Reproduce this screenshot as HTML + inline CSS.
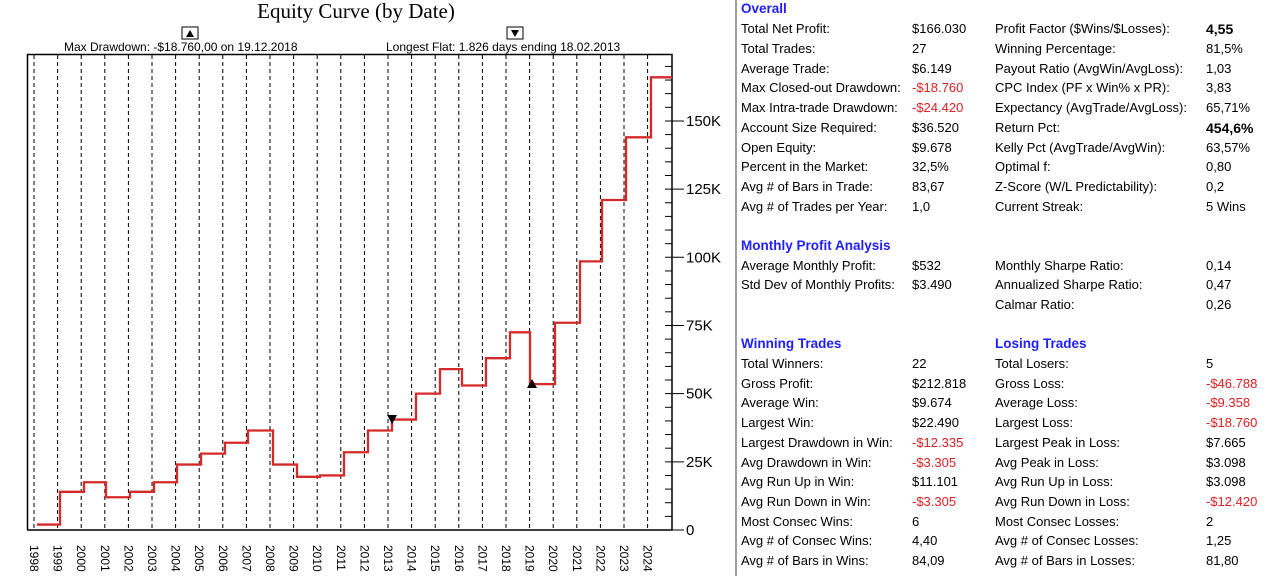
<!DOCTYPE html>
<html><head><meta charset="utf-8"><style>
body{margin:0;width:1273px;height:576px;background:#fff;overflow:hidden;font-family:"Liberation Sans",Arial,sans-serif}
.p{position:absolute;font-size:13px;color:#000;white-space:nowrap;line-height:14px}
.h{position:absolute;font-size:13.5px;font-weight:bold;color:#2020ff;white-space:nowrap}
.r{color:#e02020}.b{font-weight:bold;font-size:14px}
</style></head><body>
<svg width="735" height="576" style="position:absolute;left:0;top:0" font-family="Liberation Sans, Arial, sans-serif">
<text x="356" y="18" text-anchor="middle" font-family="Liberation Serif, serif" font-size="21">Equity Curve (by Date)</text>
<rect x="182" y="27" width="16" height="12" fill="#fff" stroke="#000"/><path d="M186 37 L194 37 L190 30 Z"/>
<rect x="507" y="27" width="16" height="12" fill="#fff" stroke="#000"/><path d="M511 30 L519 30 L515 37 Z"/>
<text x="64" y="51" font-size="12">Max Drawdown: -$18.760,00 on 19.12.2018</text>
<text x="386" y="51" font-size="12">Longest Flat: 1.826 days ending 18.02.2013</text>
<g id="grid" stroke="#000" stroke-dasharray="4,3" stroke-width="1"></g>
<path d="M27.5 530 L27.5 54.5 L672 54.5 L672 530 L27 530" fill="none" stroke="#000" stroke-width="1.5"/>
<g id="ticks" stroke="#000"></g>
<g id="yl" font-size="15"></g>
<g id="xl" font-size="12"></g>
<polyline id="eq" fill="none" stroke="#d42a2a" stroke-width="2.3"/>
<path d="M387 415 L397 415 L392 424 Z"/><path d="M527 388 L537 388 L532 379 Z"/>
</svg>
<div style="position:absolute;left:735px;top:0;width:2px;height:576px;background:#a0a0a0"></div>
<div id="st"></div>
<script>
var s='http://www.w3.org/2000/svg';
function el(p,t,a,tx){var e=document.createElementNS(s,t);for(var k in a)e.setAttribute(k,a[k]);if(tx)e.textContent=tx;document.getElementById(p).appendChild(e);}
var xs=[];for(var i=0;i<27;i++){var x=34+i*23.6;xs.push(x);el('grid','line',{x1:x,y1:55,x2:x,y2:530});
el('xl','text',{transform:'translate('+(x-4)+',545) rotate(90)'},''+(1998+i));}
function Y(k){return 530-k*2.727;}
for(var k=0;k<=170;k+=5){var y=Y(k);if(y<56)break;if(k%25==0){el('ticks','line',{x1:665,y1:y,x2:684,y2:y});el('yl','text',{x:686,y:y+5},k==0?'0':k+'K');}else el('ticks','line',{x1:665,y1:y,x2:672,y2:y});}
var st=[[37,2],[60,14],[84,17.5],[106,12],[130,14],[154,17.5],[177,24],[201,28],[225,32],[248,36.5],[273,24],[297,19.5],[320,20],[344,28.5],[368,36.5],[392,40.5],[416,50],[440,59],[462,53],[486,63],[510,72.5],[530,53.5],[555,76],[580,98.5],[602,121],[626,144],[651,166]];
var pts=[];for(var i=0;i<st.length;i++){var y=Y(st[i][1]);if(i>0)pts.push(st[i][0]+','+Y(st[i-1][1]));pts.push(st[i][0]+','+y);}pts.push('672,'+Y(166));
document.getElementById('eq').setAttribute('points',pts.join(' '));
var H='';function h(t,y,x){H+='<div class="h" style="left:'+(x||741)+'px;top:'+(y-8)+'px">'+t+'</div>';}
function row(y,a,b,c,d){H+='<div class="p" style="left:741px;top:'+(y-7)+'px">'+a+'</div><div class="p" style="left:912px;top:'+(y-7)+'px">'+b+'</div>';if(c!=null)H+='<div class="p" style="left:995px;top:'+(y-7)+'px">'+c+'</div><div class="p" style="left:1206px;top:'+(y-7)+'px">'+d+'</div>';}
h('Overall',9);
var o=[['Total Net Profit:','$166.030','Profit Factor ($Wins/$Losses):','<span class="b">4,55</span>'],['Total Trades:','27','Winning Percentage:','81,5%'],['Average Trade:','$6.149','Payout Ratio (AvgWin/AvgLoss):','1,03'],['Max Closed-out Drawdown:','<span class="r">-$18.760</span>','CPC Index (PF x Win% x PR):','3,83'],['Max Intra-trade Drawdown:','<span class="r">-$24.420</span>','Expectancy (AvgTrade/AvgLoss):','65,71%'],['Account Size Required:','$36.520','Return Pct:','<span class="b">454,6%</span>'],['Open Equity:','$9.678','Kelly Pct (AvgTrade/AvgWin):','63,57%'],['Percent in the Market:','32,5%','Optimal f:','0,80'],['Avg # of Bars in Trade:','83,67','Z-Score (W/L Predictability):','0,2'],['Avg # of Trades per Year:','1,0','Current Streak:','5 Wins']];
o.forEach(function(r,i){row(29+i*19.75,r[0],r[1],r[2],r[3]);});
h('Monthly Profit Analysis',246);
row(266,'Average Monthly Profit:','$532','Monthly Sharpe Ratio:','0,14');
row(285,'Std Dev of Monthly Profits:','$3.490','Annualized Sharpe Ratio:','0,47');
H+='<div class="p" style="left:995px;top:298px">Calmar Ratio:</div><div class="p" style="left:1206px;top:298px">0,26</div>';
h('Winning Trades',344);h('Losing Trades',344,995);
var w=[['Total Winners:','22','Total Losers:','5'],['Gross Profit:','$212.818','Gross Loss:','<span class="r">-$46.788</span>'],['Average Win:','$9.674','Average Loss:','<span class="r">-$9.358</span>'],['Largest Win:','$22.490','Largest Loss:','<span class="r">-$18.760</span>'],['Largest Drawdown in Win:','<span class="r">-$12.335</span>','Largest Peak in Loss:','$7.665'],['Avg Drawdown in Win:','<span class="r">-$3.305</span>','Avg Peak in Loss:','$3.098'],['Avg Run Up in Win:','$11.101','Avg Run Up in Loss:','$3.098'],['Avg Run Down in Win:','<span class="r">-$3.305</span>','Avg Run Down in Loss:','<span class="r">-$12.420</span>'],['Most Consec Wins:','6','Most Consec Losses:','2'],['Avg # of Consec Wins:','4,40','Avg # of Consec Losses:','1,25'],['Avg # of Bars in Wins:','84,09','Avg # of Bars in Losses:','81,80']];
w.forEach(function(r,i){row(364+i*19.7,r[0],r[1],r[2],r[3]);});
document.getElementById('st').innerHTML=H;
</script>
</body></html>
